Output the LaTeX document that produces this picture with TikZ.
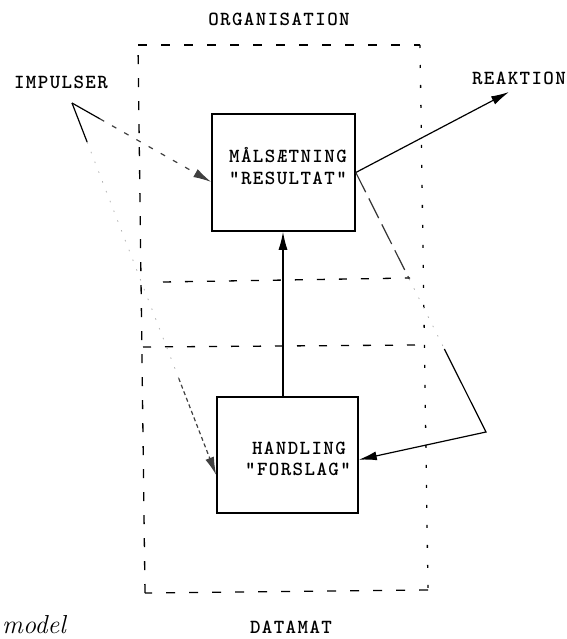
\documentclass[tikz,border=0pt]{standalone}
\usepackage{fontspec}
\newfontfamily\typew{lmmonolt10-bold.otf}[LetterSpace=7]
\usetikzlibrary{arrows.meta,calc}

\tikzset{
  box/.style={draw, line width=1.6pt, inner sep=0pt},
  lbl/.style={font=\typew\fontsize{20}{22}\selectfont, inner sep=0pt, anchor=base},
  tip/.style={-{Latex[length=18pt,width=9pt]}},
  flow/.style={line width=1.2pt},
  faint/.style={line width=0.8pt, black!30, dash pattern=on 1.5pt off 9pt},
  frame/.style={line width=1.3pt, dash pattern=on 9pt off 14pt},
  frameright/.style={line width=1.3pt, dash pattern=on 3pt off 17pt},
  divider/.style={line width=1.3pt, dash pattern=on 8pt off 14pt}
}

\begin{document}
\begin{tikzpicture}[x=1pt, y=-1pt]
  \useasboundingbox (0,0) rectangle (566,639);

  % organisation frame
  \coordinate (otl) at (138,45);
  \coordinate (otr) at (420,45);
  \coordinate (obr) at (428,590);
  \coordinate (obl) at (145,593);
  \draw[frame] (otl) -- (otr);
  \draw[frameright] (otr) -- (obr);
  \draw[frame] (obr) -- (obl);
  \draw[frame] (obl) -- (otl);

  % the two dashed dividers across the frame
  \coordinate (d1l) at (163,282);
  \coordinate (d1r) at (410,278);
  \coordinate (d2l) at (143,347);
  \coordinate (d2r) at (417,345);
  \draw[divider] (d1l) -- (d1r);
  \draw[divider] (d2l) -- (d2r);

  % boxes
  \node[box, minimum width=143pt, minimum height=117pt] (mal) at (283.5,172.5) {};
  \node[box, minimum width=141pt, minimum height=116pt] (hand) at (287.5,455) {};

  \node[lbl] (mal1) at (288,163) {MÅLSÆTNING};
  \node[lbl] (mal2) at (288,184) {"RESULTAT"};
  \node[lbl] (hand1) at (299,454) {HANDLING};
  \node[lbl] (hand2) at (298,475) {"FORSLAG"};

  % labels
  \node[lbl] (org) at (279,26) {ORGANISATION};
  \node[lbl] (imp) at (61,89) {IMPULSER};
  \node[lbl] (reak) at (519,85) {REAKTION};
  \node[lbl] (dat) at (291,633) {DATAMAT};
  \node[anchor=base west, inner sep=0pt, font=\itshape\fontsize{26}{28}\selectfont] (cap) at (2,633) {model};

  % connector points
  \coordinate (apex) at (72,103);
  \coordinate (rtip) at (509,92);
  \coordinate (corner) at (486,432);
  \coordinate (upx) at (283,300);
  \coordinate (malL) at ($(mal.north west)!0.58!(mal.south west)$);
  \coordinate (malR) at ($(mal.north east)!0.5!(mal.south east)$);
  \coordinate (handL) at ($(hand.north west)!0.67!(hand.south west)$);
  \coordinate (handR) at ($(hand.north east)!0.54!(hand.south east)$);

  % impulses into the goal box
  \draw[flow] (apex) -- ($(apex)!0.2!(malL)$);
  \draw[flow, black!75, dash pattern=on 5pt off 9pt, tip] ($(apex)!0.2!(malL)$) -- (malL);

  % impulses into the action box
  \draw[flow] (apex) -- ($(apex)!0.105!(handL)$);
  \draw[faint] ($(apex)!0.105!(handL)$) -- ($(apex)!0.74!(handL)$);
  \draw[flow, black!75, dash pattern=on 4pt off 3pt, tip] ($(apex)!0.74!(handL)$) -- (handL);

  % action feeds the goal
  \draw[flow, tip] (hand.north -| upx) -- (mal.south -| upx);

  % reaction out of the goal box
  \draw[flow, tip] (malR) -- (rtip);

  % feedback loop from goal to action
  \draw[flow, black!80, dash pattern=on 22pt off 7pt] (malR) -- ($(malR)!0.41!(corner)$);
  \draw[faint] ($(malR)!0.41!(corner)$) -- ($(malR)!0.68!(corner)$);
  \draw[flow, tip] ($(malR)!0.68!(corner)$) -- (corner) -- (handR);
\end{tikzpicture}
\end{document}
